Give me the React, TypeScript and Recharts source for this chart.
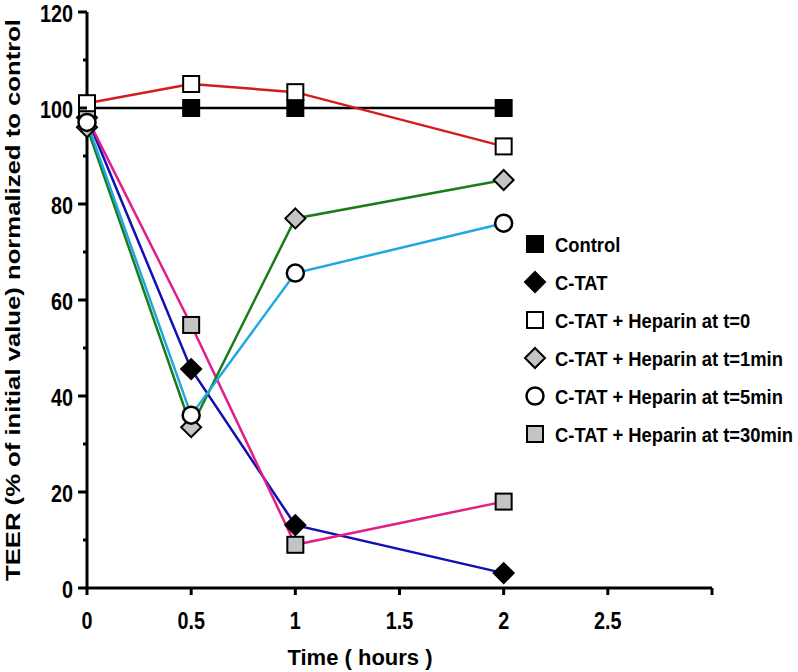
import React from 'react';
import { LineChart, Line, XAxis, YAxis, Legend, Label } from 'recharts';

const times = [0, 0.5, 1, 2];
const control = [100, 100, 100, 100];
const cTat = [98, 45.6, 13.1, 3.1];
const hep0 = [101, 105, 103.3, 92];
const hep1 = [96, 33.5, 77, 85];
const hep5 = [97, 36, 65.6, 76];
const hep30 = [98, 54.8, 9, 18];

const xTicks = [0, 0.5, 1, 1.5, 2, 2.5, 3];
const xTickLabels = ['0', '0.5', '1', '1.5', '2', '2.5', ''];
const yTicks = [0, 10, 20, 30, 40, 50, 60, 70, 80, 90, 100, 110, 120];

const data = times.map((t, i) => ({
  t,
  control: control[i],
  cTat: cTat[i],
  hep0: hep0[i],
  hep1: hep1[i],
  hep5: hep5[i],
  hep30: hep30[i],
}));

const SANS = '"Liberation Sans", Arial, sans-serif';

type Shape = 'square' | 'diamond' | 'circle';

const marker = (shape: Shape, fill: string, cx: number, cy: number, key?: string) => {
  if (shape === 'square') {
    return <rect key={key} x={cx - 8} y={cy - 8} width={16} height={16} fill={fill} stroke="#000" strokeWidth={2} />;
  }
  if (shape === 'diamond') {
    const r = 10;
    return (
      <polygon
        key={key}
        points={`${cx},${cy - r} ${cx + r},${cy} ${cx},${cy + r} ${cx - r},${cy}`}
        fill={fill}
        stroke="#000"
        strokeWidth={2}
      />
    );
  }
  return <circle key={key} cx={cx} cy={cy} r={8.5} fill={fill} stroke="#000" strokeWidth={2.5} />;
};

const series = [
  { key: 'control', name: 'Control', color: '#000000', shape: 'square' as Shape, fill: '#000000' },
  { key: 'cTat', name: 'C-TAT', color: '#1010b4', shape: 'diamond' as Shape, fill: '#000000' },
  { key: 'hep0', name: 'C-TAT + Heparin at t=0', color: '#d41c1c', shape: 'square' as Shape, fill: '#ffffff' },
  { key: 'hep1', name: 'C-TAT + Heparin at t=1min', color: '#1a7d1a', shape: 'diamond' as Shape, fill: '#c4c4c4' },
  { key: 'hep5', name: 'C-TAT + Heparin at t=5min', color: '#1fa8e0', shape: 'circle' as Shape, fill: '#ffffff' },
  { key: 'hep30', name: 'C-TAT + Heparin at t=30min', color: '#e21e88', shape: 'square' as Shape, fill: '#c4c4c4' },
];

const drawOrder = ['control', 'cTat', 'hep30', 'hep1', 'hep0', 'hep5'];

const Condensed = ({ x, y, anchor, size, sx = 0.86, children }: any) => (
  <g transform={`translate(${x} ${y}) scale(${sx} 1)`}>
    <text x={0} y={0} textAnchor={anchor} dominantBaseline="central" fontFamily={SANS} fontWeight="bold" fontSize={size} fill="#000">
      {children}
    </text>
  </g>
);

const XTick = (props: any) => {
  const { x, y, payload } = props;
  const idx = xTicks.indexOf(payload.value);
  return (
    <g>
      <line x1={x} y1={y} x2={x} y2={y + 7} stroke="#000" strokeWidth={3} />
      <Condensed x={x} y={y + 33} anchor="middle" size={23}>
        {idx >= 0 ? xTickLabels[idx] : ''}
      </Condensed>
    </g>
  );
};

const YTick = (props: any) => {
  const { x, y, payload } = props;
  const major = payload.value % 20 === 0;
  return (
    <g>
      <line x1={x - (major ? 9 : 4)} y1={y} x2={x} y2={y} stroke="#000" strokeWidth={3} />
      {major && (
        <Condensed x={x - 14} y={y + 2} anchor="end" size={23}>
          {payload.value}
        </Condensed>
      )}
    </g>
  );
};

const LegendContent = () => (
  <svg width={276} height={230}>
    {series.map((s, i) => {
      const cy = 12 + i * 38;
      return (
        <g key={s.key}>
          {marker(s.shape, s.fill, 15, cy)}
          <Condensed x={35} y={cy + 1} anchor="start" size={21} sx={0.875}>
            {s.name}
          </Condensed>
        </g>
      );
    })}
  </svg>
);

export default function App() {
  return (
    <div style={{ position: 'absolute', left: 0, top: 0, width: 798, height: 672, background: '#fff' }}>
      <LineChart width={798} height={672} data={data} margin={{ top: 12, right: 86, bottom: 0, left: 0 }}>
        <XAxis
          dataKey="t"
          type="number"
          domain={[0, 3]}
          ticks={xTicks}
          interval={0}
          height={84}
          tickLine={false}
          tickSize={0}
          tickMargin={0}
          axisLine={{ stroke: '#000', strokeWidth: 3 }}
          tick={<XTick />}
        >
          <Label
            content={() => (
              <text x={360} y={657} textAnchor="middle" dominantBaseline="central" fontFamily={SANS} fontWeight="bold" fontSize={22} fill="#000">
                Time ( hours )
              </text>
            )}
          />
        </XAxis>
        <YAxis
          type="number"
          domain={[0, 120]}
          ticks={yTicks}
          interval={0}
          width={87}
          tickLine={false}
          tickSize={0}
          tickMargin={0}
          axisLine={{ stroke: '#000', strokeWidth: 3 }}
          tick={<YTick />}
        >
          <Label
            content={() => (
              <text
                x={12}
                y={300}
                transform="rotate(-90 12 300)"
                textAnchor="middle"
                dominantBaseline="central"
                fontFamily={SANS}
                fontWeight="bold"
                fontSize={21}
                textLength={562}
                lengthAdjust="spacingAndGlyphs"
                fill="#000"
              >
                TEER (% of initial value) normalized to control
              </text>
            )}
          />
        </YAxis>
        <Legend
          layout="vertical"
          verticalAlign="middle"
          align="center"
          wrapperStyle={{ left: 520, top: 232, width: 276 }}
          content={<LegendContent />}
        />
        {drawOrder.map((k) => {
          const s = series.find((q) => q.key === k)!;
          return (
            <Line
              key={s.key}
              dataKey={s.key}
              name={s.name}
              stroke={s.color}
              strokeWidth={2.5}
              isAnimationActive={false}
              dot={(p: any) => marker(s.shape, s.fill, p.cx, p.cy, `${s.key}-${p.index}`)}
              activeDot={false}
            />
          );
        })}
      </LineChart>
    </div>
  );
}
